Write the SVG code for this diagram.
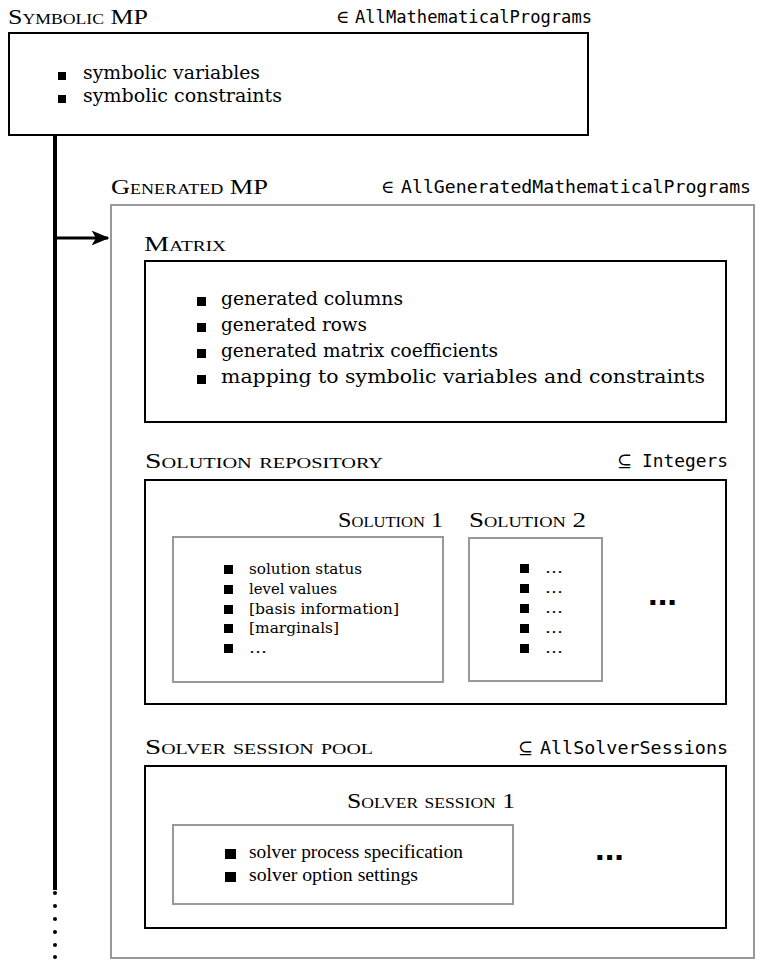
<svg xmlns="http://www.w3.org/2000/svg" width="762" height="961" viewBox="0 0 762 961">
<defs>
<style>
.title{font-family:"Liberation Serif",serif;font-size:22px;font-variant:small-caps;fill:#000}
.mono{font-family:"DejaVu Sans Mono","Liberation Mono",monospace;font-size:17px;fill:#000}
.sym{font-family:"DejaVu Serif",serif;font-size:18px;fill:#000}
.item{font-family:"DejaVu Serif",serif;font-size:18.5px;fill:#000}
.sitem{font-family:"DejaVu Serif",serif;font-size:15.2px;fill:#000}
.vitem{font-family:"Liberation Serif",serif;font-size:18px;fill:#000}
.dots{font-family:"Liberation Sans",sans-serif;font-size:34px;font-weight:bold;fill:#000}
.box{fill:#fff;stroke:#000;stroke-width:2}
.gbox{fill:#fff;stroke:#999;stroke-width:2}
.bul{fill:#000}
.conn{fill:none;stroke:#000}
</style>
<marker id="ah" viewBox="0 0 12 10" refX="11" refY="5" markerWidth="6" markerHeight="5" markerUnits="strokeWidth" orient="auto">
<path d="M0,0 L12,5 L0,10 L3,5 z" fill="#000"/>
</marker>
</defs>

<g id="connectors">
<line class="conn" x1="55" y1="135" x2="55" y2="890" stroke-width="4"/>
<g fill="#000">
<circle cx="55" cy="893" r="2"/>
<circle cx="55" cy="906" r="2"/>
<circle cx="55" cy="919" r="2"/>
<circle cx="55" cy="932" r="2"/>
<circle cx="55" cy="945" r="2"/>
<circle cx="55" cy="957" r="2"/>
</g>
<line class="conn" x1="55" y1="238" x2="108" y2="238" stroke-width="3" marker-end="url(#ah)"/>
</g>

<g id="symbolic-mp">
<text class="title" x="8" y="24" textLength="140" lengthAdjust="spacingAndGlyphs">Symbolic MP</text>
<text class="sym" x="336" y="23">∈</text>
<text class="mono" x="355" y="23" textLength="237" lengthAdjust="spacingAndGlyphs">AllMathematicalPrograms</text>
<rect class="box" x="9" y="33" width="579" height="102"/>
<rect class="bul" x="58" y="72" width="8" height="8"/>
<text class="item" x="83" y="79" textLength="177" lengthAdjust="spacingAndGlyphs">symbolic variables</text>
<rect class="bul" x="58" y="95" width="8" height="8"/>
<text class="item" x="83" y="102" textLength="199" lengthAdjust="spacingAndGlyphs">symbolic constraints</text>
</g>

<g id="generated-mp">
<text class="title" x="111" y="194" textLength="157" lengthAdjust="spacingAndGlyphs">Generated MP</text>
<text class="sym" x="381" y="193">∈</text>
<text class="mono" x="401" y="193" textLength="350" lengthAdjust="spacingAndGlyphs">AllGeneratedMathematicalPrograms</text>
<rect class="gbox" x="111" y="205" width="643" height="753"/>
</g>

<g id="matrix">
<text class="title" x="144" y="251" textLength="82" lengthAdjust="spacingAndGlyphs">Matrix</text>
<rect class="box" x="145" y="261" width="581" height="161"/>
<rect class="bul" x="197" y="297" width="9" height="9"/>
<text class="item" x="221" y="305" textLength="182" lengthAdjust="spacingAndGlyphs">generated columns</text>
<rect class="bul" x="197" y="323" width="9" height="9"/>
<text class="item" x="221" y="331" textLength="146" lengthAdjust="spacingAndGlyphs">generated rows</text>
<rect class="bul" x="197" y="349" width="9" height="9"/>
<text class="item" x="221" y="357" textLength="277" lengthAdjust="spacingAndGlyphs">generated matrix coefficients</text>
<rect class="bul" x="197" y="375" width="9" height="9"/>
<text class="item" x="221" y="383" textLength="484" lengthAdjust="spacingAndGlyphs">mapping to symbolic variables and constraints</text>
</g>

<g id="solution-repository">
<text class="title" x="145" y="468" textLength="238" lengthAdjust="spacingAndGlyphs">Solution repository</text>
<text class="sym" x="617" y="467">⊆</text>
<text class="mono" x="642" y="467" textLength="86" lengthAdjust="spacingAndGlyphs">Integers</text>
<rect class="box" x="145" y="480" width="581" height="224"/>
<text class="dots" x="648" y="605" textLength="29" lengthAdjust="spacingAndGlyphs">...</text>
</g>

<g id="solution-1">
<text class="title" x="338" y="527" textLength="105" lengthAdjust="spacingAndGlyphs">Solution 1</text>
<rect class="gbox" x="173" y="537" width="270" height="145"/>
<rect class="bul" x="224" y="565" width="9" height="9"/>
<text class="sitem" x="249" y="574" textLength="113" lengthAdjust="spacingAndGlyphs">solution status</text>
<rect class="bul" x="224" y="585" width="9" height="9"/>
<text class="sitem" x="249" y="594" textLength="88" lengthAdjust="spacingAndGlyphs">level values</text>
<rect class="bul" x="224" y="605" width="9" height="9"/>
<text class="sitem" x="249" y="614" textLength="150" lengthAdjust="spacingAndGlyphs">[basis information]</text>
<rect class="bul" x="224" y="624" width="9" height="9"/>
<text class="sitem" x="249" y="633" textLength="90" lengthAdjust="spacingAndGlyphs">[marginals]</text>
<rect class="bul" x="224" y="644" width="9" height="9"/>
<text class="sitem" x="249" y="653" textLength="18" lengthAdjust="spacingAndGlyphs">…</text>
</g>

<g id="solution-2">
<text class="title" x="469" y="527" textLength="117" lengthAdjust="spacingAndGlyphs">Solution 2</text>
<rect class="gbox" x="469" y="538" width="133" height="143"/>
<rect class="bul" x="520" y="564" width="9" height="9"/>
<text class="sitem" x="545" y="573" textLength="18" lengthAdjust="spacingAndGlyphs">…</text>
<rect class="bul" x="520" y="584" width="9" height="9"/>
<text class="sitem" x="545" y="593" textLength="18" lengthAdjust="spacingAndGlyphs">…</text>
<rect class="bul" x="520" y="604" width="9" height="9"/>
<text class="sitem" x="545" y="613" textLength="18" lengthAdjust="spacingAndGlyphs">…</text>
<rect class="bul" x="520" y="624" width="9" height="9"/>
<text class="sitem" x="545" y="633" textLength="18" lengthAdjust="spacingAndGlyphs">…</text>
<rect class="bul" x="520" y="644" width="9" height="9"/>
<text class="sitem" x="545" y="653" textLength="18" lengthAdjust="spacingAndGlyphs">…</text>
</g>

<g id="solver-session-pool">
<text class="title" x="145" y="754" textLength="228" lengthAdjust="spacingAndGlyphs">Solver session pool</text>
<text class="sym" x="518" y="754">⊆</text>
<text class="mono" x="540" y="754" textLength="188" lengthAdjust="spacingAndGlyphs">AllSolverSessions</text>
<rect class="box" x="145" y="766" width="581" height="162"/>
<text class="dots" x="595" y="860" textLength="29" lengthAdjust="spacingAndGlyphs">...</text>
</g>

<g id="solver-session-1">
<text class="title" x="347" y="808" textLength="168" lengthAdjust="spacingAndGlyphs">Solver session 1</text>
<rect class="gbox" x="173" y="825" width="340" height="79"/>
<rect class="bul" x="225" y="849" width="11" height="10"/>
<text class="vitem" x="249" y="858" textLength="214" lengthAdjust="spacingAndGlyphs">solver process specification</text>
<rect class="bul" x="225" y="872" width="11" height="10"/>
<text class="vitem" x="249" y="881" textLength="169" lengthAdjust="spacingAndGlyphs">solver option settings</text>
</g>
</svg>
